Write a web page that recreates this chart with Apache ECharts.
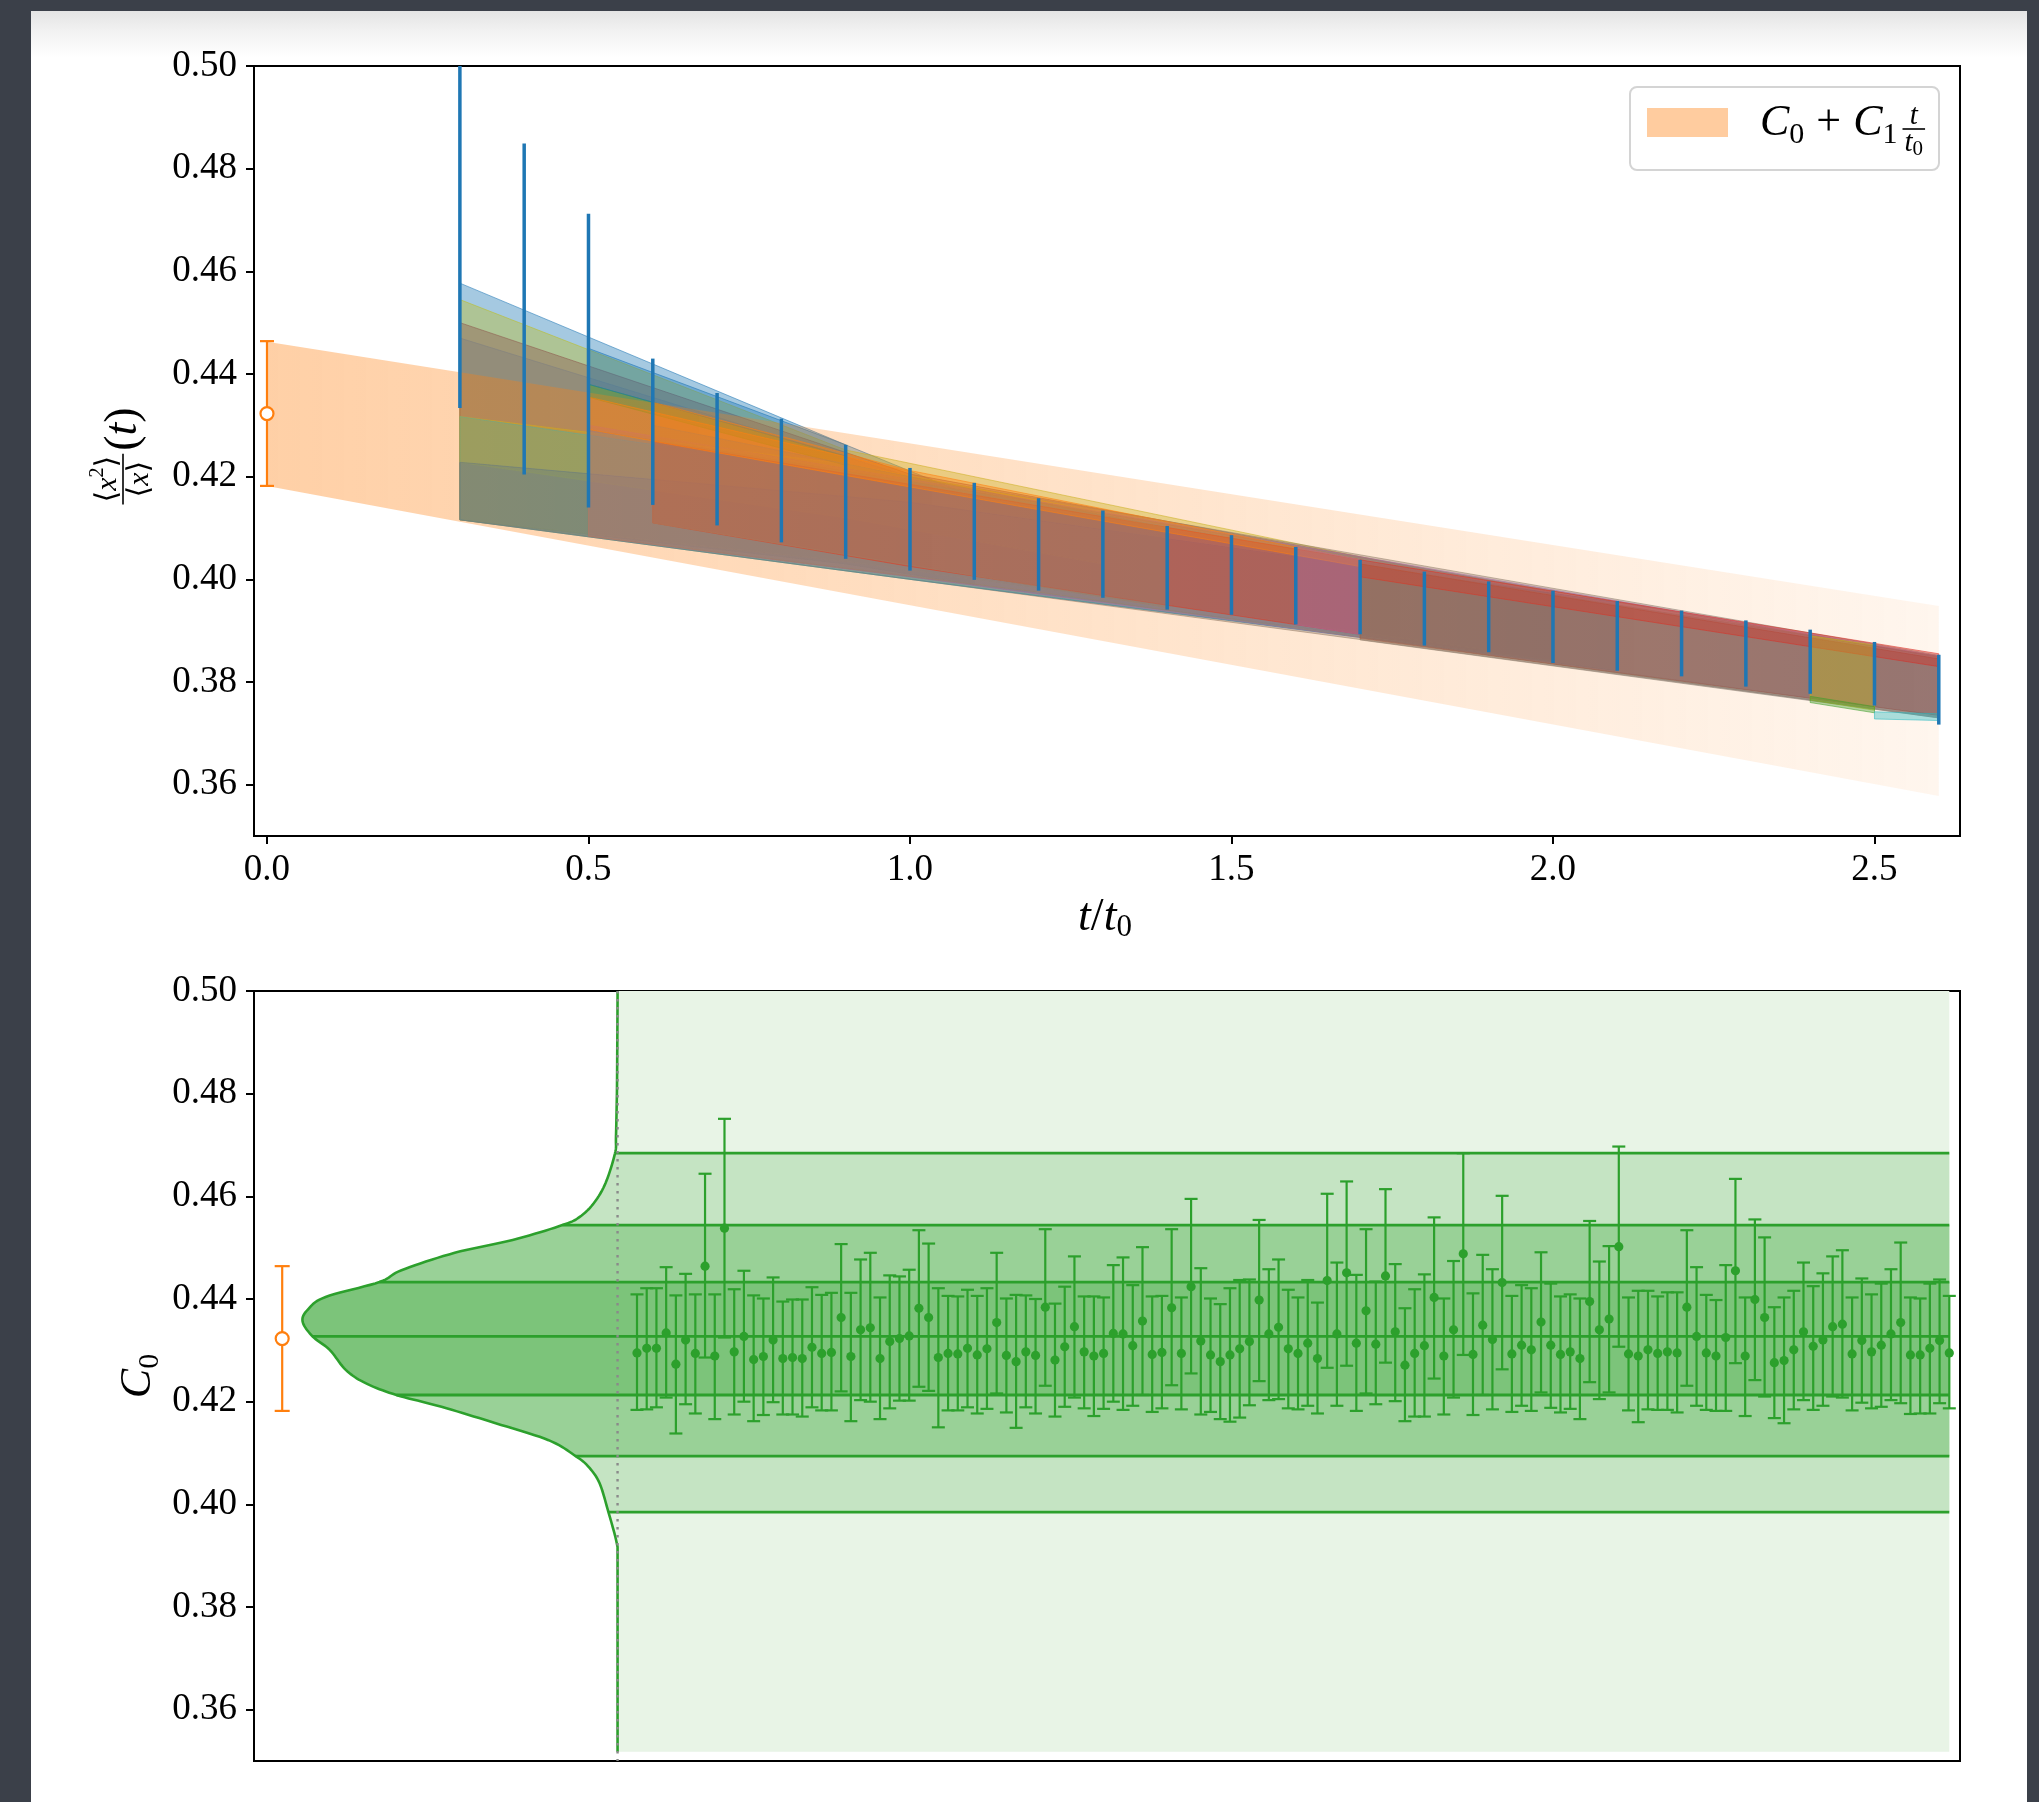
<!DOCTYPE html>
<html>
<head>
<meta charset="utf-8">
<script src="https://cdn.jsdelivr.net/npm/echarts@6/dist/echarts.min.js"></script>
<style>
  html, body { margin: 0; padding: 0; width: 2039px; height: 1802px; overflow: hidden; background: #3b4049; }
  #panel { position: absolute; left: 31px; top: 11px; width: 1996px; height: 1791px;
           background: linear-gradient(#e4e4e4 0px, #f3f3f3 22px, #ffffff 46px); }
  #chart { position: absolute; left: 0; top: 0; width: 2039px; height: 1802px; }
</style>
</head>
<body>
<div id="panel"></div>
<div id="chart"></div>
<script>
// ---------- tick labels ----------
const tTicks = [0.0, 0.5, 1.0, 1.5, 2.0, 2.5];
const yTicks = [0.36, 0.38, 0.40, 0.42, 0.44, 0.46, 0.48, 0.50];

// ---------- ratio <x^2>/<x> (t): error bars ----------
const tData   = [0.3, 0.4, 0.5, 0.6, 0.7, 0.8, 0.9, 1.0, 1.1, 1.2, 1.3, 1.4, 1.5, 1.6, 1.7, 1.8, 1.9, 2.0, 2.1, 2.2, 2.3, 2.4, 2.5, 2.6];
const ratioLo = [0.4334, 0.4204, 0.4140, 0.4145, 0.4105, 0.4072, 0.4040, 0.4017, 0.3999, 0.3978, 0.3964, 0.3941, 0.3931, 0.3912, 0.3893, 0.3871, 0.3858, 0.3837, 0.3822, 0.3811, 0.3791, 0.3777, 0.3754, 0.3717];
const ratioHi = [0.5070, 0.4849, 0.4712, 0.4430, 0.4363, 0.4313, 0.4262, 0.4217, 0.4188, 0.4158, 0.4134, 0.4104, 0.4086, 0.4063, 0.4038, 0.4015, 0.3996, 0.3978, 0.3958, 0.3939, 0.3920, 0.3902, 0.3878, 0.3853];

// ---------- final fit C0 + C1 t/t0 ----------
const fitT  = [0.0, 2.6];
const fitLo = [0.4182, 0.3578];
const fitHi = [0.4463, 0.3948];
const c0Fit = [0.4323, 0.4182, 0.4464];   // value, low, high

// ---------- individual window fits: rows of [t, low, high] ----------
const windowColor = ['blue', 'olive', 'brown', 'gray', 'olive', 'cyan', 'blue', 'purple', 'gray', 'green', 'blue', 'orange',
                     'red', 'gray', 'orange', 'purple', 'gray', 'brown', 'red', 'olive', 'green', 'cyan'];
const windowRows = [
  [[0.3, 0.4116, 0.4577], [0.9, 0.4030, 0.4262], [1.1, 0.3990, 0.4160]],
  [[0.3, 0.4116, 0.4545], [0.9, 0.4035, 0.4252], [1.9, 0.3862, 0.3992]],
  [[0.3, 0.4116, 0.4500], [1.0, 0.4005, 0.4205], [2.0, 0.3842, 0.3975]],
  [[0.3, 0.4116, 0.4470], [1.0, 0.4000, 0.4200], [2.6, 0.3732, 0.3852]],
  [[0.3, 0.4228, 0.4317], [0.9, 0.4120, 0.4225], [1.3, 0.4030, 0.4130]],
  [[0.3, 0.4116, 0.4317], [1.0, 0.4000, 0.4190], [2.0, 0.3840, 0.3972]],
  [[0.3, 0.4116, 0.4228], [1.0, 0.4000, 0.4150], [2.1, 0.3822, 0.3955]],
  [[0.5, 0.4084, 0.4300], [1.0, 0.4005, 0.4195], [2.6, 0.3735, 0.3850]],
  [[0.5, 0.4084, 0.4292], [1.2, 0.3975, 0.4150], [2.6, 0.3730, 0.3848]],
  [[0.5, 0.4355, 0.4380], [0.9, 0.4222, 0.4240]],
  [[0.5, 0.4380, 0.4450], [0.9, 0.4240, 0.4262]],
  [[0.5, 0.4292, 0.4355], [1.0, 0.4180, 0.4210]],
  [[0.6, 0.4110, 0.4269], [1.0, 0.4025, 0.4185], [1.7, 0.3893, 0.4038]],
  [[0.6, 0.4110, 0.4300], [1.4, 0.3945, 0.4100]],
  [[0.6, 0.4269, 0.4345], [1.0, 0.4180, 0.4212], [1.7, 0.4025, 0.4038]],
  [[1.6, 0.3912, 0.4063], [1.7, 0.3893, 0.4038]],
  [[1.7, 0.3882, 0.4030], [2.6, 0.3730, 0.3850]],
  [[1.7, 0.3885, 0.4030], [2.6, 0.3735, 0.3845]],
  [[1.7, 0.4005, 0.4038], [2.6, 0.3830, 0.3855]],
  [[2.4, 0.3765, 0.3890], [2.5, 0.3745, 0.3872]],
  [[2.4, 0.3760, 0.3772], [2.5, 0.3740, 0.3752]],
  [[2.5, 0.3728, 0.3742], [2.6, 0.3725, 0.3738]]
];

// ---------- C0 from every fit window ----------
const c0Mid = [0.4295,0.4304,0.4304,0.4334,0.4273,0.4320,0.4294,0.4464,0.4289,0.4538,0.4297,0.4327,0.4282,0.4288,0.4320,0.4284,0.4286,0.4284,0.4306,0.4294,
               0.4296,0.4364,0.4288,0.4340,0.4344,0.4284,0.4317,0.4323,0.4328,0.4382,0.4364,0.4286,0.4294,0.4293,0.4304,0.4291,0.4303,0.4354,0.4290,0.4278,
               0.4297,0.4290,0.4384,0.4281,0.4307,0.4346,0.4297,0.4289,0.4294,0.4333,0.4332,0.4309,0.4357,0.4292,0.4296,0.4383,0.4294,0.4424,0.4318,0.4291,
               0.4278,0.4291,0.4303,0.4317,0.4398,0.4332,0.4345,0.4303,0.4294,0.4314,0.4284,0.4436,0.4332,0.4451,0.4314,0.4377,0.4312,0.4445,0.4336,0.4271,
               0.4294,0.4309,0.4403,0.4289,0.4340,0.4488,0.4292,0.4349,0.4321,0.4432,0.4293,0.4310,0.4301,0.4355,0.4310,0.4292,0.4297,0.4284,0.4395,0.4340,
               0.4361,0.4502,0.4293,0.4289,0.4301,0.4294,0.4297,0.4295,0.4384,0.4327,0.4295,0.4289,0.4325,0.4455,0.4289,0.4399,0.4364,0.4276,0.4280,0.4301,
               0.4336,0.4308,0.4320,0.4346,0.4351,0.4293,0.4319,0.4297,0.4310,0.4332,0.4354,0.4291,0.4291,0.4304,0.4319,0.4295];
const c0Hi  = [0.4409,0.4421,0.4421,0.4462,0.4407,0.4449,0.4409,0.4644,0.4409,0.4751,0.4419,0.4455,0.4407,0.4401,0.4442,0.4395,0.4399,0.4399,0.4423,0.4408,
               0.4412,0.4507,0.4412,0.4477,0.4490,0.4403,0.4446,0.4444,0.4457,0.4534,0.4508,0.4421,0.4406,0.4405,0.4418,0.4406,0.4421,0.4490,0.4401,0.4408,
               0.4407,0.4400,0.4536,0.4391,0.4424,0.4483,0.4405,0.4405,0.4403,0.4466,0.4481,0.4427,0.4501,0.4405,0.4406,0.4536,0.4403,0.4595,0.4460,0.4401,
               0.4390,0.4421,0.4437,0.4438,0.4554,0.4458,0.4477,0.4418,0.4403,0.4437,0.4393,0.4605,0.4471,0.4629,0.4447,0.4536,0.4434,0.4614,0.4468,0.4382,
               0.4419,0.4448,0.4559,0.4401,0.4474,0.4684,0.4411,0.4486,0.4458,0.4601,0.4406,0.4427,0.4421,0.4491,0.4430,0.4405,0.4409,0.4401,0.4552,0.4473,
               0.4503,0.4697,0.4403,0.4416,0.4416,0.4405,0.4413,0.4413,0.4534,0.4462,0.4408,0.4398,0.4466,0.4634,0.4403,0.4555,0.4520,0.4384,0.4403,0.4416,
               0.4471,0.4425,0.4450,0.4483,0.4495,0.4403,0.4440,0.4409,0.4430,0.4458,0.4510,0.4403,0.4401,0.4430,0.4438,0.4406];
const c0Lo  = [0.4184,0.4185,0.4189,0.4208,0.4138,0.4195,0.4177,0.4286,0.4166,0.4325,0.4175,0.4200,0.4162,0.4174,0.4199,0.4175,0.4175,0.4171,0.4189,0.4183,
               0.4183,0.4220,0.4162,0.4203,0.4200,0.4166,0.4187,0.4202,0.4202,0.4229,0.4221,0.4150,0.4183,0.4183,0.4189,0.4177,0.4186,0.4216,0.4179,0.4149,
               0.4189,0.4177,0.4231,0.4171,0.4190,0.4208,0.4187,0.4172,0.4186,0.4200,0.4184,0.4192,0.4213,0.4180,0.4187,0.4232,0.4185,0.4255,0.4175,0.4180,
               0.4166,0.4161,0.4169,0.4193,0.4240,0.4203,0.4205,0.4187,0.4185,0.4192,0.4177,0.4266,0.4192,0.4270,0.4182,0.4216,0.4195,0.4276,0.4201,0.4162,
               0.4171,0.4171,0.4245,0.4175,0.4208,0.4291,0.4174,0.4213,0.4185,0.4263,0.4180,0.4192,0.4182,0.4218,0.4188,0.4179,0.4186,0.4166,0.4238,0.4205,
               0.4218,0.4307,0.4183,0.4160,0.4185,0.4184,0.4184,0.4179,0.4231,0.4192,0.4184,0.4182,0.4182,0.4275,0.4172,0.4242,0.4210,0.4168,0.4158,0.4185,
               0.4203,0.4184,0.4192,0.4210,0.4208,0.4183,0.4198,0.4187,0.4190,0.4203,0.4197,0.4176,0.4177,0.4177,0.4197,0.4187];

// ---------- distribution of C0 (kernel density, peak = 1) ----------
const kdeY       = [0.3518,0.3917,0.3944,0.3985,0.4041,0.4073,0.4094,0.4125,0.4158,0.4190,0.4213,0.4236,0.4262,0.4301,0.4327,0.4356,
                    0.4379,0.4404,0.4433,0.4456,0.4490,0.4515,0.4544,0.4560,0.4587,0.4626,0.4684,0.4716,0.4801,0.4982,0.5135];
const kdeDensity = [0,0,0.010,0.029,0.057,0.092,0.133,0.219,0.387,0.559,0.702,0.800,0.863,0.914,0.968,1.000,
                    0.984,0.927,0.756,0.686,0.517,0.333,0.175,0.120,0.075,0.038,0.008,0.005,0.002,0,0];
// 3 sigma, 2 sigma, 1 sigma, median, 1 sigma, 2 sigma, 3 sigma
const c0Quantiles = [0.3985, 0.4094, 0.4213, 0.4327, 0.4433, 0.4544, 0.4684];

// ---------- drawing constants ----------
const TAB = { blue:'#1f77b4', orange:'#ff7f0e', green:'#2ca02c', red:'#d62728', purple:'#9467bd',
              brown:'#8c564b', pink:'#e377c2', gray:'#7f7f7f', olive:'#bcbd22', cyan:'#17becf' };
const KDE_BASE = -2;       // x of the density baseline in the lower panel
const KDE_SPAN = 32.4;     // x extent of the density peak
const C0_MARK_X = -36.5;   // x of the reference point in the lower panel
const LAST = c0Mid.length - 1;
const SERIF = '"Liberation Serif", "DejaVu Serif", serif';
const GREEN = '#2ca02c';

function rgba(hex, a) {
  const n = parseInt(hex.slice(1), 16);
  return 'rgba(' + (n >> 16) + ',' + ((n >> 8) & 255) + ',' + (n & 255) + ',' + a + ')';
}
function kdeX(i) { return KDE_BASE - kdeDensity[i] * KDE_SPAN; }

// smooth (Catmull-Rom) pixel path through density rows ia..ib; straight where the density is zero
function kdePath(api, ia, ib) {
  const P = kdeY.map((y, i) => api.coord([kdeX(i), y]));
  const basePx = api.coord([KDE_BASE, 0.4])[0];
  const out = [P[ia]];
  for (let i = ia; i < ib; i++) {
    if (kdeDensity[i] === 0 && kdeDensity[i + 1] === 0) { out.push(P[i + 1]); continue; }
    const p1 = P[i], p2 = P[i + 1];
    const p0 = (i === 0 || kdeDensity[i - 1] === 0) ? p1 : P[i - 1];
    const p3 = (i + 2 >= P.length || kdeDensity[i + 2] === 0) ? p2 : P[i + 2];
    for (let k = 1; k <= 10; k++) {
      const t = k / 10, t2 = t * t, t3 = t2 * t;
      const f = (a, b, c, d) => 0.5 * (2 * b + (-a + c) * t + (2 * a - 5 * b + 4 * c - d) * t2 + (-a + 3 * b - 3 * c + d) * t3);
      out.push([Math.min(f(p0[0], p1[0], p2[0], p3[0]), basePx), f(p0[1], p1[1], p2[1], p3[1])]);
    }
  }
  return out;
}

// ---------- math-like text helpers ----------
const mctx = document.createElement('canvas').getContext('2d');
function tw(str, size, italic) {
  mctx.font = (italic ? 'italic ' : '') + size + 'px ' + SERIF;
  return mctx.measureText(str).width;
}
function piece(str, x, y, size, italic, align) {
  return { type: 'text', x: x, y: y, z: 100,
           style: { text: str, fill: '#000', fontSize: size, fontFamily: SERIF, fontStyle: italic ? 'italic' : 'normal',
                    align: align || 'left', verticalAlign: 'middle' } };
}
function run(parts, x0, yc) {
  let x = x0; const out = [];
  parts.forEach(p => {
    x += (p.gap || 0);
    out.push(piece(p.s, x, yc + (p.dy || 0), p.size, p.it));
    x += tw(p.s, p.size, p.it);
  });
  return { els: out, width: x - x0 };
}
function runWidth(parts) { return parts.reduce((w, p) => w + (p.gap || 0) + tw(p.s, p.size, p.it), 0); }

// ---------- chart ----------
const chart = echarts.init(document.getElementById('chart'), null, { renderer: 'canvas' });

const labelStyle = { color: '#000', fontFamily: SERIF, fontSize: 37 };
const axisLineStyle = { show: true, onZero: false, lineStyle: { color: '#000', width: 2 } };

function yAxisFor(grid) {
  return { gridIndex: grid, type: 'value', min: 0.35, max: 0.50,
           axisLine: axisLineStyle,
           axisTick: { show: true, length: 8, lineStyle: { color: '#000', width: 2 }, customValues: yTicks },
           axisLabel: Object.assign({ customValues: yTicks, formatter: v => v.toFixed(2), margin: 17 }, labelStyle),
           splitLine: { show: false } };
}

function errorBar(api, x, y, lo, hi, capHalf, color, width) {
  const pTop = api.coord([x, hi]), pBot = api.coord([x, lo]);
  const els = [{ type: 'line', shape: { x1: pTop[0], y1: pTop[1], x2: pBot[0], y2: pBot[1] }, style: { stroke: color, lineWidth: width } }];
  if (capHalf > 0) {
    els.push({ type: 'line', shape: { x1: pTop[0] - capHalf, y1: pTop[1], x2: pTop[0] + capHalf, y2: pTop[1] }, style: { stroke: color, lineWidth: width } });
    els.push({ type: 'line', shape: { x1: pBot[0] - capHalf, y1: pBot[1], x2: pBot[0] + capHalf, y2: pBot[1] }, style: { stroke: color, lineWidth: width } });
  }
  return els;
}

// band polygons of the lower panel: [low, high] limits, left edge follows the density
const c0Bands = [
  [kdeY[0], kdeY[kdeY.length - 1], '#e8f4e6'],
  [c0Quantiles[0], c0Quantiles[6], '#c5e4c3'],
  [c0Quantiles[1], c0Quantiles[5], '#99d197'],
  [c0Quantiles[2], c0Quantiles[4], '#7cc47a']
];

const option = {
  animation: false,
  backgroundColor: 'transparent',
  grid: [
    { left: 254, top: 66, width: 1706, height: 770, show: true, borderColor: '#000', borderWidth: 2 },
    { left: 254, top: 991, width: 1706, height: 770, show: true, borderColor: '#000', borderWidth: 2 }
  ],
  xAxis: [
    { gridIndex: 0, type: 'value', min: -0.0202, max: 2.633,
      axisLine: axisLineStyle,
      axisTick: { show: true, length: 8, lineStyle: { color: '#000', width: 2 }, customValues: tTicks },
      axisLabel: Object.assign({ customValues: tTicks, formatter: v => v.toFixed(1), margin: 16 }, labelStyle),
      splitLine: { show: false } },
    { gridIndex: 1, type: 'value', min: -39.4, max: 136.1,
      axisLine: axisLineStyle, axisTick: { show: false }, axisLabel: { show: false }, splitLine: { show: false } }
  ],
  yAxis: [yAxisFor(0), yAxisFor(1)],
  series: [
    // window fits
    { type: 'custom', name: 'window fits', xAxisIndex: 0, yAxisIndex: 0, clip: true, z: 2, silent: true,
      data: windowRows.map(r => [r[0][0], r[0][1]]),
      renderItem: (params, api) => {
        const rows = windowRows[params.dataIndex];
        const col = TAB[windowColor[params.dataIndex]];
        const up = rows.map(r => api.coord([r[0], r[2]]));
        const dn = rows.slice().reverse().map(r => api.coord([r[0], r[1]]));
        return { type: 'polygon', shape: { points: up.concat(dn) },
                 style: { fill: rgba(col, 0.4), stroke: rgba(col, 0.55), lineWidth: 1 } };
      } },
    // final fit band
    { type: 'custom', name: 'C0 + C1 t/t0', xAxisIndex: 0, yAxisIndex: 0, clip: true, z: 3, silent: true,
      data: [[fitT[0], fitLo[0]]],
      renderItem: (params, api) => {
        const up = fitT.map((t, i) => api.coord([t, fitHi[i]]));
        const dn = fitT.map((t, i) => api.coord([t, fitLo[i]])).reverse();
        return { type: 'polygon', shape: { points: up.concat(dn) },
                 style: { fill: { type: 'linear', x: 0, y: 0, x2: 1, y2: 0,
                                  colorStops: [{ offset: 0, color: 'rgba(255,127,14,0.37)' },
                                               { offset: 1, color: 'rgba(255,127,14,0.07)' }] } } };
      } },
    // data error bars
    { type: 'custom', name: 'ratio', xAxisIndex: 0, yAxisIndex: 0, clip: true, z: 4, silent: true,
      data: tData.map((t, i) => [t, ratioLo[i], ratioHi[i]]),
      renderItem: (params, api) => ({ type: 'group',
        children: errorBar(api, api.value(0), 0, api.value(1), api.value(2), 0, TAB.blue, 3.5) }) },
    // C0 point at t = 0
    { type: 'custom', name: 'C0 top', xAxisIndex: 0, yAxisIndex: 0, clip: false, z: 5, silent: true,
      data: [[0, c0Fit[0], c0Fit[1], c0Fit[2]]],
      renderItem: (params, api) => {
        const c = api.coord([api.value(0), api.value(1)]);
        const els = errorBar(api, api.value(0), api.value(1), api.value(2), api.value(3), 7, TAB.orange, 2.2);
        els.push({ type: 'circle', shape: { cx: c[0], cy: c[1], r: 6.5 }, style: { fill: '#fff', stroke: TAB.orange, lineWidth: 2.2 } });
        return { type: 'group', children: els };
      } },

    // ---- lower panel ----
    { type: 'custom', name: 'C0 bands', xAxisIndex: 1, yAxisIndex: 1, clip: true, z: 2, silent: true,
      data: c0Bands.map(b => [LAST, b[0]]),
      renderItem: (params, api) => {
        const b = c0Bands[params.dataIndex];
        const ia = kdeY.indexOf(b[0]), ib = kdeY.indexOf(b[1]);
        const pts = [api.coord([LAST, b[1]]), api.coord([LAST, b[0]])].concat(kdePath(api, ia, ib));
        return { type: 'polygon', shape: { points: pts }, style: { fill: b[2] } };
      } },
    { type: 'custom', name: 'C0 lines', xAxisIndex: 1, yAxisIndex: 1, clip: true, z: 3, silent: true,
      data: [[KDE_BASE, kdeY[0]]],
      renderItem: (params, api) => {
        const els = [];
        els.push({ type: 'polyline', shape: { points: kdePath(api, 0, kdeY.length - 1) },
                   style: { stroke: GREEN, lineWidth: 2.6, fill: null } });
        c0Quantiles.forEach(q => {
          const i = kdeY.indexOf(q);
          const a = api.coord([kdeX(i), q]), b = api.coord([LAST, q]);
          els.push({ type: 'line', shape: { x1: a[0], y1: a[1], x2: b[0], y2: b[1] }, style: { stroke: GREEN, lineWidth: 2.8 } });
        });
        const t = api.coord([KDE_BASE, 0.50]), d = api.coord([KDE_BASE, 0.35]);
        els.push({ type: 'line', shape: { x1: t[0], y1: t[1], x2: d[0], y2: d[1] },
                   style: { stroke: '#8a8a8a', lineWidth: 2.4, lineDash: [2.5, 5.5] } });
        return { type: 'group', children: els };
      } },
    { type: 'custom', name: 'C0 windows', xAxisIndex: 1, yAxisIndex: 1, clip: true, z: 5, silent: true,
      data: c0Mid.map((m, i) => [i, m, c0Lo[i], c0Hi[i]]),
      renderItem: (params, api) => {
        const c = api.coord([api.value(0), api.value(1)]);
        const els = errorBar(api, api.value(0), api.value(1), api.value(2), api.value(3), 6.5, GREEN, 2.2);
        els.push({ type: 'circle', shape: { cx: c[0], cy: c[1], r: 4.6 }, style: { fill: GREEN } });
        return { type: 'group', children: els };
      } },
    { type: 'custom', name: 'C0 bottom', xAxisIndex: 1, yAxisIndex: 1, clip: false, z: 6, silent: true,
      data: [[C0_MARK_X, c0Fit[0], c0Fit[1], c0Fit[2]]],
      renderItem: (params, api) => {
        const c = api.coord([api.value(0), api.value(1)]);
        const els = errorBar(api, api.value(0), api.value(1), api.value(2), api.value(3), 7.5, TAB.orange, 2.2);
        els.push({ type: 'circle', shape: { cx: c[0], cy: c[1], r: 6.5 }, style: { fill: '#fff', stroke: TAB.orange, lineWidth: 2.2 } });
        return { type: 'group', children: els };
      } }
  ]
};

// ---------- legend ----------
const graphics = [];
graphics.push({ type: 'rect', z: 99, shape: { x: 1630, y: 87, width: 309, height: 83, r: 7 },
                style: { fill: 'rgba(255,255,255,0.85)', stroke: '#d4d4d4', lineWidth: 2 } });
graphics.push({ type: 'rect', z: 100, shape: { x: 1647, y: 108, width: 81, height: 29 }, style: { fill: 'rgba(255,127,14,0.4)' } });
const legRun = run([
  { s: 'C', size: 44, it: true },
  { s: '0', size: 30, dy: 12 },
  { s: '+', size: 44, gap: 12 },
  { s: 'C', size: 44, it: true, gap: 12 },
  { s: '1', size: 30, dy: 12 }
], 1760, 123);
legRun.els.forEach(e => graphics.push(e));
const fracX = 1760 + legRun.width + 5;
const denParts = [{ s: 't', size: 29, it: true }, { s: '0', size: 21, dy: 6 }];
const denW = runWidth(denParts);
const fracW = Math.max(denW, tw('t', 29, true)) + 4;
graphics.push(piece('t', fracX + fracW / 2, 116, 29, true, 'center'));
graphics.push({ type: 'line', z: 100, shape: { x1: fracX, y1: 129, x2: fracX + fracW, y2: 129 }, style: { stroke: '#000', lineWidth: 1.6 } });
run(denParts, fracX + (fracW - denW) / 2, 143).els.forEach(e => graphics.push(e));

// ---------- x axis title: t/t0 ----------
const xtParts = [{ s: 't', size: 46, it: true }, { s: '/', size: 46 }, { s: 't', size: 46, it: true }, { s: '0', size: 31, dy: 10 }];
run(xtParts, 1105 - runWidth(xtParts) / 2, 918).els.forEach(e => graphics.push(e));

// ---------- y axis title (upper panel): <x^2>/<x> (t), rotated ----------
(function () {
  const kids = [];
  const numParts = [{ s: '\u27E8', size: 30 }, { s: 'x', size: 30, it: true }, { s: '2', size: 20, dy: -10 }, { s: '\u27E9', size: 30 }];
  const denP = [{ s: '\u27E8', size: 30 }, { s: 'x', size: 30, it: true }, { s: '\u27E9', size: 30 }];
  const nW = runWidth(numParts), dW = runWidth(denP);
  const fW = Math.max(nW, dW) + 4;
  const pW = runWidth([{ s: '(', size: 46 }, { s: 't', size: 46, it: true }, { s: ')', size: 46 }]);
  const x0 = -(fW + 3 + pW) / 2;
  run(numParts, x0 + (fW - nW) / 2, -16).els.forEach(e => kids.push(e));
  kids.push({ type: 'line', z: 100, shape: { x1: x0, y1: -1, x2: x0 + fW, y2: -1 }, style: { stroke: '#000', lineWidth: 1.6 } });
  run(denP, x0 + (fW - dW) / 2, 16).els.forEach(e => kids.push(e));
  run([{ s: '(', size: 46 }, { s: 't', size: 46, it: true }, { s: ')', size: 46 }], x0 + fW + 3, 0).els.forEach(e => kids.push(e));
  graphics.push({ type: 'group', x: 124, y: 456, rotation: Math.PI / 2, z: 100, children: kids });
})();

// ---------- y axis title (lower panel): C0, rotated ----------
(function () {
  const parts = [{ s: 'C', size: 44, it: true }, { s: '0', size: 30, dy: 12 }];
  const w = runWidth(parts);
  graphics.push({ type: 'group', x: 138, y: 1376, rotation: Math.PI / 2, z: 100, children: run(parts, -w / 2, 0).els });
})();

option.graphic = { elements: graphics };
chart.setOption(option);
</script>
</body>
</html>
